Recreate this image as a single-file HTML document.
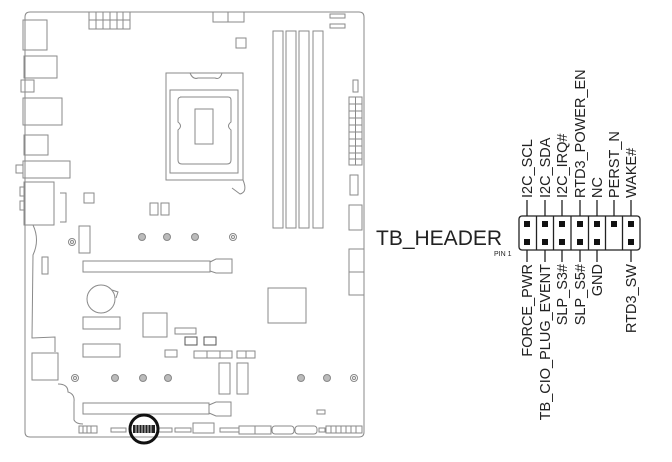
<!DOCTYPE html>
<html><head><meta charset="utf-8"><style>
html,body{margin:0;padding:0;background:#fff;overflow:hidden;}
svg{display:block;}
text{font-family:"Liberation Sans",Arial,sans-serif;fill:#222;}
</style></head><body>
<svg width="672" height="462" viewBox="0 0 672 462" xmlns="http://www.w3.org/2000/svg">
<g fill="none" stroke="#8a8a8a" stroke-width="1">
<path d="M30,12 Q25,12 25,17 L25,432 Q25,437 30,437 L359,437 Q364,437 364,432 L364,17 Q364,12 359,12 Z" fill="#fff"/>
<rect x="23" y="20" width="24" height="30"/>
<rect x="24" y="56" width="33" height="22"/>
<rect x="21" y="80" width="13" height="12"/>
<rect x="23" y="98" width="39" height="27"/>
<rect x="24" y="135" width="24" height="20"/>
<rect x="23" y="161" width="47" height="17"/><rect x="16" y="165" width="7" height="8"/>
<rect x="24" y="182" width="30" height="43"/><rect x="20" y="187" width="4" height="9"/><rect x="20" y="201" width="4" height="9"/>
<path d="M60,193 H66 V222 H60"/>
<rect x="89" y="12" width="41" height="17"/>
<path d="M96,12V29M103,12V29M110,12V29M117,12V29M123,12V29M89,20H130"/>
<rect x="213" y="12" width="31" height="10"/><path d="M228,12V22"/>
<rect x="330" y="14" width="15" height="4"/><rect x="330" y="24" width="15" height="4"/>
<rect x="236" y="38" width="10" height="10"/>
<rect x="166" y="73" width="77" height="107"/>
<rect x="170" y="90" width="68" height="83"/>
<path d="M180,97 H228 Q231,97 231,100 V122 Q226,126 231,130 V160 Q231,164 227,164 H182 Q178,164 178,160 V130 Q183,126 178,122 V100 Q178,97 182,97 Z"/>
<rect x="195" y="109" width="18" height="35"/>
<path d="M190,73 Q193,80 198,78 H215 Q220,80 222,73"/>
<path d="M243,180 Q248,192 240,194 L232,188"/>
<rect x="273" y="31" width="10" height="197"/>
<rect x="286" y="31" width="10" height="197"/>
<rect x="299" y="31" width="10" height="197"/>
<rect x="313" y="31" width="10" height="197"/>
<rect x="353" y="80" width="5" height="12"/>
<rect x="349" y="97" width="13" height="68"/>
<path d="M355.5,97V165M349,104H362M349,111H362M349,118H362M349,125H362M349,132H362M349,139H362M349,146H362M349,153H362M349,159H362"/>
<rect x="350" y="175" width="8" height="20"/>
<rect x="349" y="205" width="13" height="25"/>
<rect x="84" y="193" width="10" height="10"/>
<rect x="150" y="203" width="8" height="12"/><rect x="161" y="203" width="8" height="12"/>
<rect x="79" y="226" width="11" height="27"/>
<rect x="42" y="257" width="6" height="17"/>
<path d="M33,225 Q40,240 33,255 L32,338 L55,337 L55,352"/>
<rect x="83" y="261" width="127" height="11"/>
<path d="M210,262 L216,259 H232 V273 H216 L210,271"/>
<circle cx="101" cy="299" r="14"/><path d="M112,290 L118,292 L116,298"/>
<rect x="83" y="317" width="37" height="12"/>
<rect x="83" y="344" width="37" height="13"/>
<rect x="143" y="313" width="24" height="24"/>
<rect x="268" y="288" width="38" height="35"/>
<rect x="349" y="249" width="15" height="23"/><rect x="349" y="272" width="15" height="23"/>
<rect x="175" y="328" width="21" height="6"/>
<rect x="185" y="337" width="12" height="8" stroke="#555"/><rect x="204" y="337" width="12" height="8" stroke="#555"/>
<rect x="165" y="350" width="12" height="7"/>
<rect x="194" y="351" width="38" height="7"/><path d="M207,351V358M220,351V358"/>
<rect x="237" y="351" width="18" height="7"/><path d="M246,351V358"/>
<rect x="219" y="363" width="11" height="31"/><rect x="237" y="363" width="11" height="31"/>
<rect x="32" y="353" width="26" height="27"/>
<path d="M58,384 Q68,384 68,392 Q75,394 74,402 L74,420 Q76,424 83,424"/>
<rect x="83" y="403" width="126" height="11"/>
<path d="M209,405 L216,402 H231 V416 H216 L209,413"/>
<rect x="317" y="410" width="8" height="4"/>
<rect x="79" y="426" width="18" height="7"/><path d="M83,426V433M87,426V433M91,426V433"/>
<rect x="111" y="428" width="15" height="4"/>
<rect x="157" y="428" width="15" height="4"/>
<rect x="175" y="428" width="16" height="4"/>
<rect x="193" y="423" width="21" height="10"/>
<rect x="220" y="428" width="19" height="4"/>
<rect x="239" y="426" width="16" height="8"/><rect x="255" y="426" width="16" height="8"/>
<rect x="272" y="426" width="22" height="8" rx="3"/><rect x="295" y="426" width="22" height="8" rx="3"/>
<rect x="319" y="428" width="6" height="4"/>
<rect x="326" y="426" width="36" height="7"/><path d="M331,426V433M336,426V433M341,426V433M346,426V433M351,426V433M356,426V433"/>
</g>
<g fill="#bbb" stroke="#888">
<circle cx="142" cy="237" r="3.5"/><circle cx="167" cy="237" r="3.5"/><circle cx="195" cy="237" r="3.5"/>
<circle cx="115" cy="378" r="3.5"/><circle cx="143" cy="378" r="3.5"/><circle cx="168" cy="378" r="3.5"/>
<circle cx="301" cy="378" r="3.5"/><circle cx="327" cy="378" r="3.5"/>
</g>
<g fill="none" stroke="#888">
<circle cx="233" cy="237" r="3.5"/><circle cx="233" cy="237" r="1.5"/>
<circle cx="72" cy="242" r="3.5"/><circle cx="72" cy="242" r="1.5"/>
<circle cx="75" cy="378" r="3.5"/><circle cx="75" cy="378" r="1.5"/>
<circle cx="354" cy="378" r="3.5"/><circle cx="354" cy="378" r="1.5"/>
</g>
<rect x="133" y="425" width="22" height="8" fill="#222"/>
<path d="M136,425V433M139,425V433M142,425V433M145,425V433M148,425V433M151,425V433" stroke="#fff" stroke-width="0.8"/>
<circle cx="144" cy="429" r="14" fill="none" stroke="#111" stroke-width="3"/>

<!-- header -->
<text x="376" y="245" font-size="21">TB_HEADER</text>
<text x="494" y="256" font-size="7">PIN 1</text>
<g stroke="#222" stroke-width="1.3" fill="none">
<rect x="519" y="216" width="121" height="34" rx="3"/>
<path d="M536.5,216V250M553.5,216V250M571,216V250M588.5,216V250M605.5,216V250M622.5,216V250"/>
<path d="M527,200V216M545,200V216M562,200V216M580,200V216M597,200V216M614,200V216M631,200V216"/>
<path d="M527,250V262M545,250V262M562,250V262M580,250V262M597,250V262M631,250V262"/>
</g>
<g fill="#111">
<rect x="524" y="221" width="6" height="6"/><rect x="542" y="221" width="6" height="6"/><rect x="559" y="221" width="6" height="6"/><rect x="577" y="221" width="6" height="6"/><rect x="594" y="221" width="6" height="6"/><rect x="611" y="221" width="6" height="6"/><rect x="628" y="221" width="6" height="6"/>
<rect x="524" y="239" width="6" height="6"/><rect x="542" y="239" width="6" height="6"/><rect x="559" y="239" width="6" height="6"/><rect x="577" y="239" width="6" height="6"/><rect x="594" y="239" width="6" height="6"/><rect x="628" y="239" width="6" height="6"/>
</g>
<g font-size="14.5">
<text transform="translate(532,198) rotate(-90)">I2C_SCL</text>
<text transform="translate(550,198) rotate(-90)">I2C_SDA</text>
<text transform="translate(567,198) rotate(-90)">I2C_IRQ#</text>
<text transform="translate(585,198) rotate(-90)">RTD3_POWER_EN</text>
<text transform="translate(602,198) rotate(-90)">NC</text>
<text transform="translate(619,198) rotate(-90)">PERST_N</text>
<text transform="translate(636,198) rotate(-90)">WAKE#</text>
<text transform="translate(532,264) rotate(-90)" text-anchor="end">FORCE_PWR</text>
<text transform="translate(550,264) rotate(-90)" text-anchor="end">TB_CIO_PLUG_EVENT</text>
<text transform="translate(567,264) rotate(-90)" text-anchor="end">SLP_S3#</text>
<text transform="translate(585,264) rotate(-90)" text-anchor="end">SLP_S5#</text>
<text transform="translate(602,264) rotate(-90)" text-anchor="end">GND</text>
<text transform="translate(636,264) rotate(-90)" text-anchor="end">RTD3_SW</text>
</g>
</svg>
</body></html>
